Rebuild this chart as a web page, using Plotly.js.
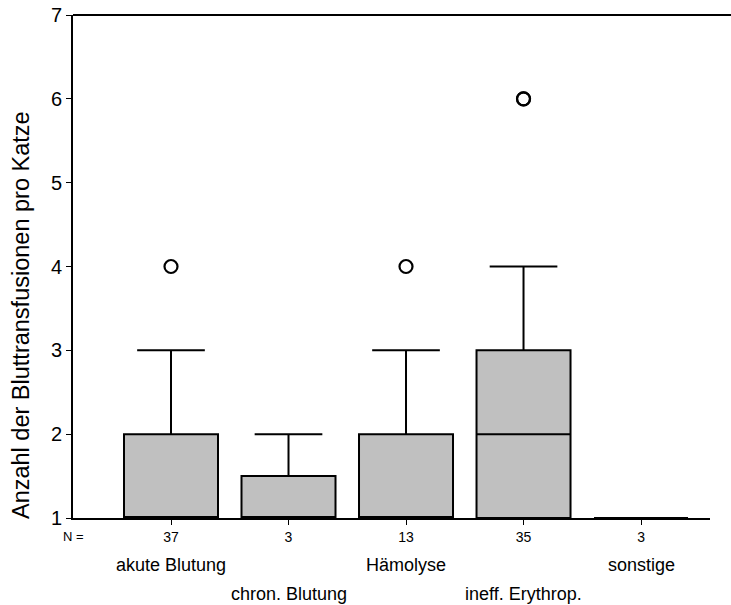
<!DOCTYPE html>
<html>
<head>
<meta charset="utf-8">
<script src="https://cdn.plot.ly/plotly-3.0.1.min.js"></script>
<style>
  html, body { margin: 0; padding: 0; background: #fff; }
  #chart { width: 731px; height: 605px; }
</style>
</head>
<body>
<div id="chart"></div>
<script>
// Transfusions per cat, grouped by cause of anaemia
const categories = ["akute Blutung", "chron. Blutung", "Hämolyse", "ineff. Erythrop.", "sonstige"];
const counts     = [37, 3, 13, 35, 3];
const q1         = [1, 1, 1, 1, 1];
const medians    = [1, 1, 1, 2, 1];
const q3         = [2, 1.5, 2, 3, 1];
const lowerWhisk = [1, 1, 1, 1, 1];
const upperWhisk = [3, 2, 3, 4, 1];
const outliers   = [[4], [], [4], [6, 6], []];
const yTitle     = "Anzahl der Bluttransfusionen pro Katze";

const fontFam = "Liberation Sans, Arial, sans-serif";

const boxTrace = {
  type: "box",
  x: categories,
  q1: q1,
  median: medians,
  q3: q3,
  lowerfence: lowerWhisk,
  upperfence: upperWhisk,
  boxpoints: false,
  width: 0.8,
  whiskerwidth: 0.72,
  fillcolor: "#c0c0c0",
  line: { color: "#000", width: 2 },
  hoverinfo: "skip",
  showlegend: false
};

const outX = [], outY = [];
outliers.forEach((vals, i) => vals.forEach(v => { outX.push(categories[i]); outY.push(v); }));

const outTrace = {
  type: "scatter",
  mode: "markers",
  x: outX,
  y: outY,
  marker: { symbol: "circle-open", size: 13, color: "#000", line: { width: 2.2, color: "#000" } },
  hoverinfo: "skip",
  showlegend: false,
  cliponaxis: false
};

// Category names in two staggered rows beneath the counts
const annotations = categories.map((c, i) => ({
  x: c, xref: "x",
  y: i % 2 === 0 ? -0.094 : -0.152, yref: "paper",
  text: c, showarrow: false,
  xanchor: "center", yanchor: "middle",
  font: { family: fontFam, size: 18, color: "#000" }
}));
annotations.push({
  x: 0, xref: "paper", y: -0.036, yref: "paper",
  text: "N =", showarrow: false, xanchor: "center", yanchor: "middle",
  font: { family: fontFam, size: 13, color: "#000" }
});
// Vertical axis caption, set low along the axis
annotations.push({
  x: -0.0816, xref: "paper", y: 0.4036, yref: "paper",
  text: yTitle, textangle: -90, showarrow: false,
  xanchor: "center", yanchor: "middle",
  font: { family: fontFam, size: 23.5, color: "#000" }
});

const layout = {
  width: 731, height: 605,
  margin: { l: 73, r: 21, t: 15, b: 87 },
  paper_bgcolor: "#fff", plot_bgcolor: "#fff",
  xaxis: {
    type: "category",
    categoryorder: "array", categoryarray: categories,
    range: [-0.834, 4.587],
    tickmode: "array", tickvals: categories, ticktext: counts.map(String),
    ticks: "outside", ticklen: 5, tickwidth: 1, tickcolor: "#000",
    tickfont: { family: fontFam, size: 14, color: "#000" },
    showline: true, linecolor: "#000", linewidth: 2,
    showgrid: false, zeroline: false, fixedrange: true
  },
  yaxis: {
    range: [1, 7],
    tickvals: [1, 2, 3, 4, 5, 6, 7],
    ticks: "outside", ticklen: 5, tickwidth: 1, tickcolor: "#000",
    tickfont: { family: fontFam, size: 20, color: "#000" },
    showline: true, linecolor: "#000", linewidth: 2,
    showgrid: false, zeroline: false, fixedrange: true
  },
  shapes: [{
    type: "line", xref: "paper", yref: "paper",
    x0: 0, x1: 1 + 21 / 637, y0: 1, y1: 1,
    line: { color: "#000", width: 2 }
  }],
  annotations: annotations
};

Plotly.newPlot("chart", [boxTrace, outTrace], layout, { displayModeBar: false, staticPlot: true });
</script>
</body>
</html>
